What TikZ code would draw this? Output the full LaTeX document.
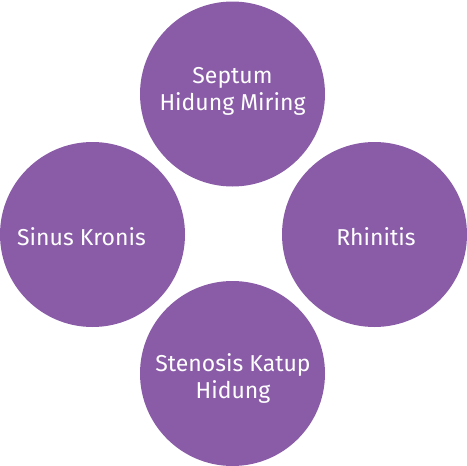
\documentclass[tikz,border=0pt]{standalone}
\usepackage{fontspec}
\setmainfont{Fira Sans}
\definecolor{bulat}{HTML}{8A5CA8}
\tikzset{
  bulat/.style={circle,fill=bulat,draw=none,minimum size=185pt,inner sep=0pt},
  teks/.style={text=white,align=center,font=\fontsize{23}{27}\selectfont}
}

\begin{document}
\begin{tikzpicture}[x=1pt,y=-1pt]
\useasboundingbox (0,0) rectangle (467,466);
\node[bulat] (septum) at (232.5,94) {};
\node[bulat] (sinus) at (92.5,234.5) {};
\node[bulat] (rhinitis) at (374.5,234.5) {};
\node[bulat] (stenosis) at (232.5,373.5) {};
\node[teks] (tseptum) at (232.5,91) {Septum\\Hidung Miring};
\node[teks] (tsinus) at (81.5,237) {Sinus Kronis};
\node[teks] (trhinitis) at (376,237) {Rhinitis};
\node[teks] (tstenosis) at (233,378) {Stenosis Katup\\Hidung};
\end{tikzpicture}
\end{document}
